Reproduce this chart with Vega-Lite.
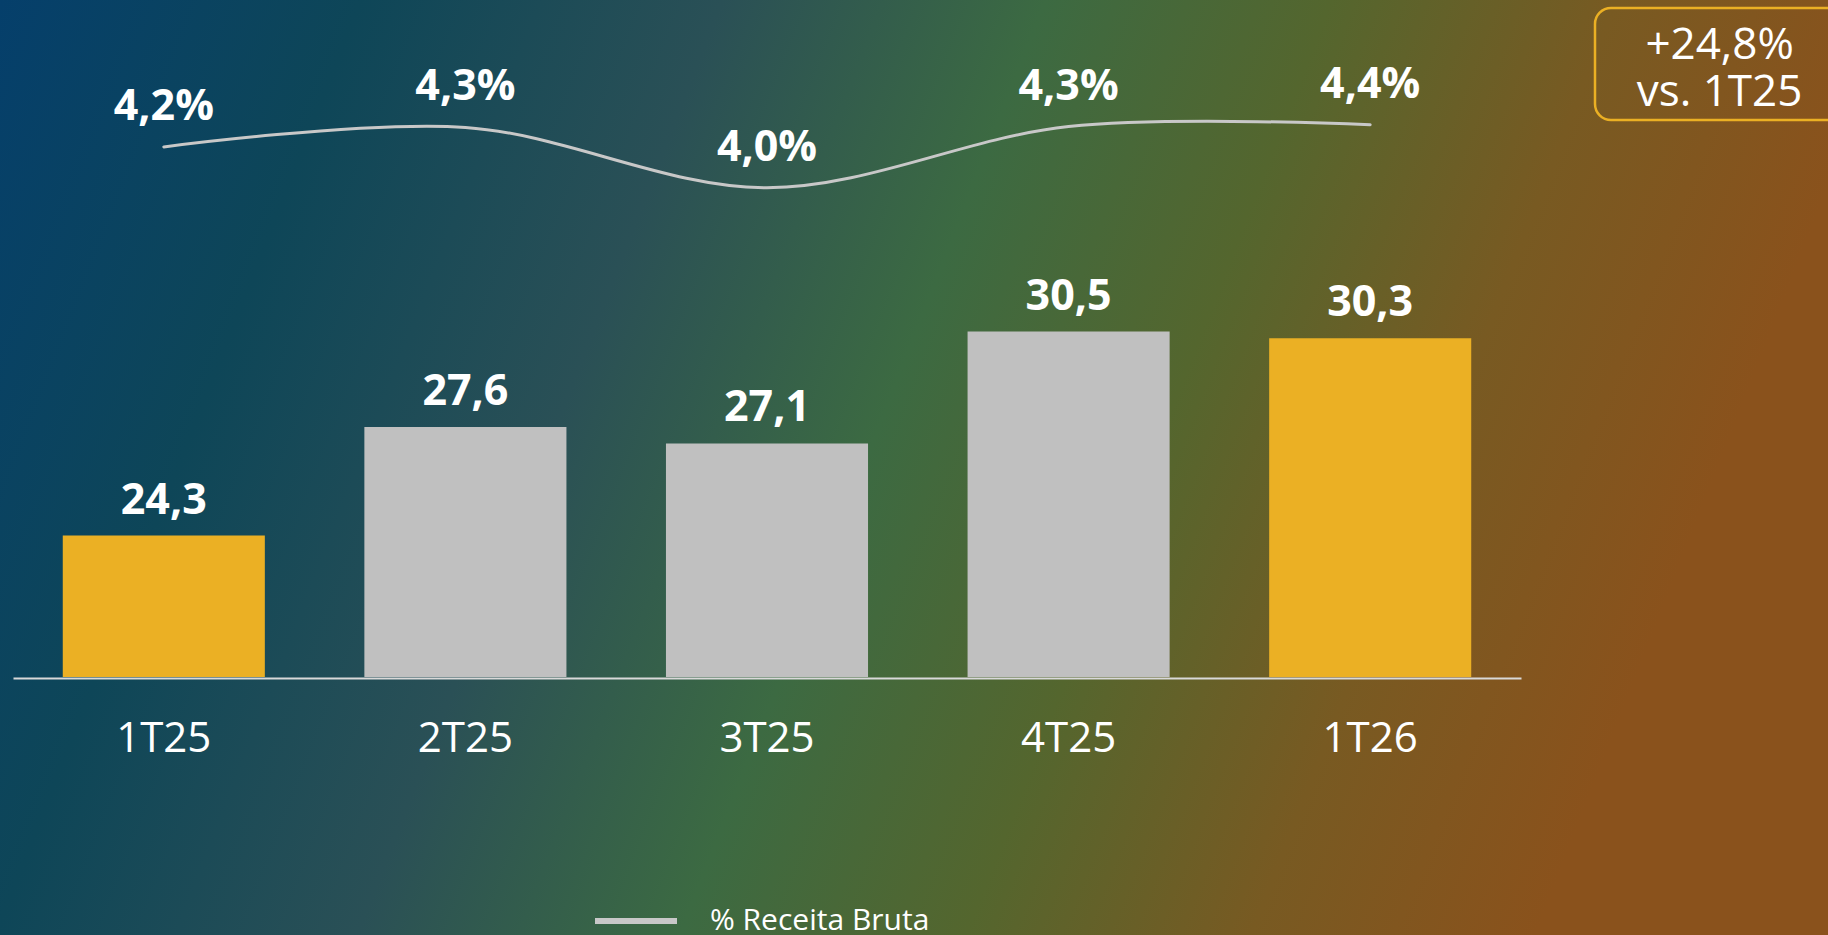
{
  "$schema": "https://vega.github.io/schema/vega-lite/v6.json",
  "width": 1828,
  "height": 935,
  "autosize": {"type": "none"},
  "padding": 0,
  "background": "#3a5a40",
  "view": {
    "stroke": null,
    "fill": {
      "gradient": "linear",
      "x1": 0, "y1": 0, "x2": 1, "y2": 0.2,
      "stops": [
        {"offset": 0, "color": "#053f6b"},
        {"offset": 0.19, "color": "#0e4658"},
        {"offset": 0.38, "color": "#2a5056"},
        {"offset": 0.55, "color": "#3c6a42"},
        {"offset": 0.7, "color": "#54662e"},
        {"offset": 0.85, "color": "#785a22"},
        {"offset": 1, "color": "#8a521c"}
      ]
    }
  },
  "config": {
    "font": "Open Sans",
    "locale": {"number": {"decimal": ",", "thousands": ".", "grouping": [3], "currency": ["R$", ""]}}
  },
  "data": {
    "values": [
      {"periodo": "1T25", "receita": 24.3, "pct": 0.0423, "destaque": "sim"},
      {"periodo": "2T25", "receita": 27.6, "pct": 0.0434, "destaque": "não"},
      {"periodo": "3T25", "receita": 27.1, "pct": 0.0400, "destaque": "não"},
      {"periodo": "4T25", "receita": 30.5, "pct": 0.04345, "destaque": "não"},
      {"periodo": "1T26", "receita": 30.3, "pct": 0.04355, "destaque": "sim"}
    ]
  },
  "encoding": {
    "x": {
      "field": "periodo",
      "type": "nominal",
      "sort": null,
      "scale": {"range": [13, 1521], "paddingInner": 0.33, "paddingOuter": 0.165},
      "axis": {
        "title": null,
        "orient": "bottom",
        "offset": -257,
        "domainColor": "#d9d9d9",
        "domainWidth": 2,
        "ticks": false,
        "grid": false,
        "labelAngle": 0,
        "labelFontSize": 42,
        "labelColor": "#ffffff",
        "labelFont": "Open Sans",
        "labelPadding": 40
      }
    }
  },
  "layer": [
    {
      "mark": {"type": "bar"},
      "encoding": {
        "y": {"field": "receita", "type": "quantitative", "scale": {"domain": [12.158, 40.578], "nice": false, "zero": false}, "axis": null},
        "y2": {"datum": 20},
        "color": {
          "field": "destaque",
          "type": "nominal",
          "scale": {"domain": ["sim", "não"], "range": ["#EBB024", "#C0C0C0"]},
          "legend": {
            "values": ["sim", "não"],
            "title": ["+24,8%", "vs. 1T25"],
            "orient": "none",
            "legendX": 1595,
            "legendY": 8,
            "direction": "horizontal",
            "columns": 2,
            "columnPadding": 234,
            "padding": 4.6,
            "symbolSize": 0,
            "symbolOpacity": 0,
            "symbolStrokeWidth": 0,
            "labelFontSize": 1,
            "labelOpacity": 0,
            "labelOffset": 0,
            "titleOrient": "bottom",
            "titleAnchor": "middle",
            "titleAlign": "center",
            "titlePadding": 10.8,
            "titleFontSize": 44,
            "titleFontWeight": "normal",
            "titleColor": "#ffffff",
            "titleFont": "Open Sans",
            "titleLineHeight": 47,
            "titleBaseline": "top",
            "strokeColor": "#EBB024",
            "cornerRadius": 16,
            "encode": {"legend": {"update": {"strokeWidth": {"value": 2.5}}}}
          }
        }
      }
    },
    {
      "mark": {"type": "text", "dy": -35, "fontSize": 43, "fontWeight": "bold", "color": "#ffffff", "font": "Open Sans", "baseline": "middle"},
      "encoding": {
        "y": {"field": "receita", "type": "quantitative", "scale": {"domain": [12.158, 40.578], "nice": false, "zero": false}, "axis": null},
        "text": {"field": "receita", "type": "quantitative", "format": ".1f"}
      }
    },
    {
      "mark": {"type": "line", "interpolate": "cardinal", "strokeWidth": 3, "strokeCap": "round"},
      "encoding": {
        "y": {"field": "pct", "type": "quantitative", "scale": {"domain": [-0.002125, 0.050581], "nice": false, "zero": false}, "axis": null},
        "stroke": {
          "datum": "% Receita Bruta",
          "scale": {"range": ["#c8c8c8"]},
          "legend": {
            "title": null,
            "orient": "none",
            "legendX": 592,
            "legendY": 877,
            "padding": 0,
            "symbolType": "stroke",
            "symbolSize": 6724,
            "symbolStrokeWidth": 6,
            "labelFontSize": 30,
            "labelLimit": 0,
            "labelColor": "#ffffff",
            "labelFont": "Open Sans",
            "labelOffset": 30
          }
        }
      }
    },
    {
      "mark": {"type": "text", "dy": -40, "fontSize": 43, "fontWeight": "bold", "color": "#ffffff", "font": "Open Sans", "baseline": "middle"},
      "encoding": {
        "y": {"field": "pct", "type": "quantitative", "scale": {"domain": [-0.002125, 0.050581], "nice": false, "zero": false}, "axis": null},
        "text": {"field": "pct", "type": "quantitative", "format": ".1%"}
      }
    }
  ],
  "resolve": {"scale": {"y": "independent"}}
}
